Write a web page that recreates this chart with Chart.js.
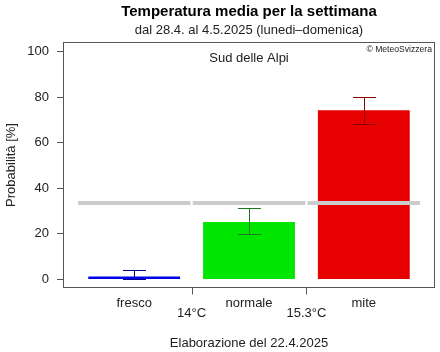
<!DOCTYPE html>
<html>
<head>
<meta charset="utf-8">
<script src="https://cdn.jsdelivr.net/npm/chart.js@4"></script>
<style>
  html, body { margin: 0; padding: 0; background: #fff; }
  #wrap { width: 440px; height: 352px; }
</style>
</head>
<body>
<div id="wrap"><canvas id="chart" width="440" height="352"></canvas></div>
<script>
// dati
const categories = ['fresco', 'normale', 'mite'];
const probs = [1, 25, 74];
const errLow = [0, 19.5, 68];
const errHigh = [4, 31, 80];
const climate = [33.3, 33.3, 33.3];
const thresholds = ['14°C', '15.3°C'];
const yTicks = [0, 20, 40, 60, 80, 100];

const barColors = ['#0000ee', '#00e600', '#e60000'];
const errColors = ['#00008b', '#1a7a1a', '#8b0000'];
const FONT = '"Liberation Sans", Arial, sans-serif';

const rStyle = {
  id: 'rStyle',
  afterDatasetsDraw(chart) {
    const { ctx, chartArea: a, scales: { x, y } } = chart;
    ctx.save();

    // linee climatologiche grigie
    ctx.strokeStyle = '#cccccc';
    ctx.lineWidth = 4;
    climate.forEach((v, i) => {
      const py = y.getPixelForValue(v);
      ctx.beginPath();
      ctx.moveTo(x.getPixelForValue(i - 0.49), py);
      ctx.lineTo(x.getPixelForValue(i + 0.49), py);
      ctx.stroke();
    });

    // barre d'errore
    ctx.lineWidth = 1;
    categories.forEach((c, i) => {
      const cx = Math.round(x.getPixelForValue(i)) + 0.5;
      const y1 = Math.round(y.getPixelForValue(errLow[i])) + 0.5;
      const y2 = Math.round(y.getPixelForValue(errHigh[i])) + 0.5;
      const hw = x.getPixelForValue(i + 0.1) - x.getPixelForValue(i);
      ctx.strokeStyle = errColors[i];
      ctx.beginPath();
      ctx.moveTo(cx, y1); ctx.lineTo(cx, y2);
      ctx.moveTo(cx - hw, y1); ctx.lineTo(cx + hw, y1);
      ctx.moveTo(cx - hw, y2); ctx.lineTo(cx + hw, y2);
      ctx.stroke();
    });

    // cornice
    ctx.strokeStyle = '#555';
    ctx.strokeRect(Math.round(a.left) + 0.5, Math.round(a.top) + 0.5,
      Math.round(a.width) - 1, Math.round(a.height) - 1);

    // asse y
    ctx.fillStyle = '#222';
    ctx.font = '13px ' + FONT;
    ctx.textAlign = 'right';
    ctx.textBaseline = 'middle';
    yTicks.forEach(v => {
      const py = Math.round(y.getPixelForValue(v)) + 0.5;
      ctx.beginPath();
      ctx.moveTo(a.left - 6, py); ctx.lineTo(a.left, py);
      ctx.stroke();
      ctx.fillText(String(v), a.left - 14, py);
    });
    ctx.save();
    ctx.translate(11, (a.top + a.bottom) / 2);
    ctx.rotate(-Math.PI / 2);
    ctx.textAlign = 'center';
    ctx.fillText('Probabilità [%]', 0, 0);
    ctx.restore();

    // asse x
    const by = Math.round(a.bottom) - 0.5;
    ctx.beginPath();
    ctx.moveTo(Math.round(x.getPixelForValue(0.5)) + 0.5, by);
    ctx.lineTo(Math.round(x.getPixelForValue(1.5)) + 0.5, by);
    thresholds.forEach((t, i) => {
      const px = Math.round(x.getPixelForValue(i + 0.5)) + 0.5;
      ctx.moveTo(px, by); ctx.lineTo(px, by + 7);
    });
    ctx.stroke();
    ctx.textAlign = 'center';
    categories.forEach((c, i) => ctx.fillText(c, x.getPixelForValue(i), a.bottom + 15));
    thresholds.forEach((t, i) => ctx.fillText(t, x.getPixelForValue(i + 0.5), a.bottom + 25));
    ctx.fillText('Elaborazione del 22.4.2025', x.getPixelForValue(1), a.bottom + 55);

    // testi interni
    ctx.fillText('Sud delle Alpi', x.getPixelForValue(1), a.top + 16);
    ctx.font = '8.6px ' + FONT;
    ctx.textAlign = 'right';
    ctx.fillText('© MeteoSvizzera', a.right - 3, a.top + 8);

    // titoli
    ctx.textAlign = 'center';
    ctx.font = 'bold 15px ' + FONT;
    ctx.fillStyle = '#000';
    ctx.fillText('Temperatura media per la settimana', x.getPixelForValue(1), 12);
    ctx.font = '13px ' + FONT;
    ctx.fillStyle = '#222';
    ctx.fillText('dal 28.4. al 4.5.2025 (lunedi–domenica)', x.getPixelForValue(1), 30);

    ctx.restore();
  }
};

new Chart(document.getElementById('chart'), {
  type: 'bar',
  data: {
    datasets: [{
      data: probs.map((v, i) => ({ x: i, y: v })),
      backgroundColor: barColors,
      borderWidth: 0,
      barPercentage: 0.8,
      categoryPercentage: 1
    }]
  },
  options: {
    responsive: false,
    animation: false,
    layout: { padding: { left: 63, right: 5, top: 42, bottom: 64 } },
    scales: {
      x: {
        type: 'linear', min: -0.62, max: 2.62, offset: false, display: false,
        // un tick per categoria, così la larghezza delle barre segue il passo 1
        afterBuildTicks: s => { s.ticks = categories.map((c, i) => ({ value: i })); }
      },
      y: { min: -4, max: 104, display: false }
    },
    plugins: {
      legend: { display: false },
      tooltip: { enabled: false }
    }
  },
  plugins: [rStyle]
});
</script>
</body>
</html>
